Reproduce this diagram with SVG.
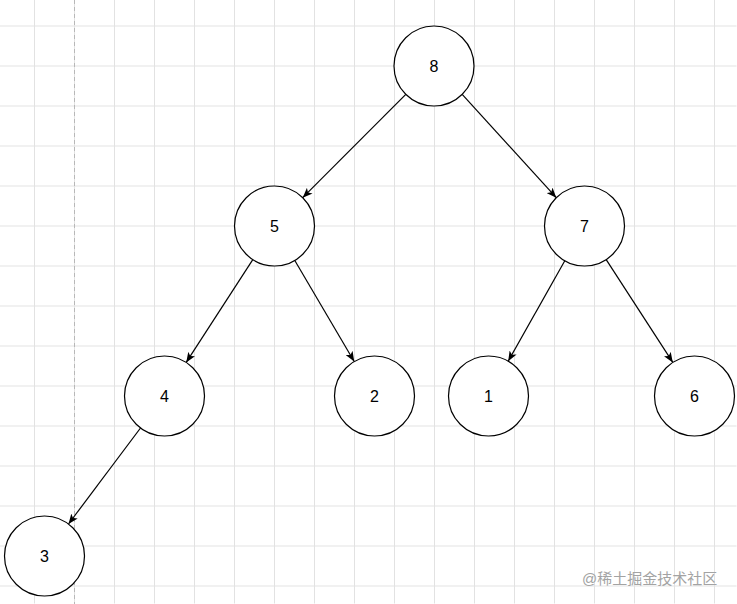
<svg xmlns="http://www.w3.org/2000/svg" width="737" height="604" viewBox="0 0 737 604">
  <defs>
    <pattern id="grid" x="34.5" y="26" width="40" height="40" patternUnits="userSpaceOnUse">
      <path d="M0,0.5 H40 M0.5,0 V40" fill="none" stroke="#e2e2e2" stroke-width="1"/>
    </pattern>
    <marker id="arrow" viewBox="0 0 10 8" refX="10" refY="4" markerWidth="10" markerHeight="8" markerUnits="userSpaceOnUse" orient="auto">
      <path d="M0,0 L10,4 L0,8 L2.5,4 Z" fill="#000"/>
    </marker>
  </defs>
  <style>
    .node circle { fill: #fff; stroke: #000; stroke-width: 1.2; }
    .node text { font-family: "Liberation Sans", Arial, sans-serif; font-size: 16px; fill: #000; text-anchor: middle; }
    .edges line { stroke: #000; stroke-width: 1.2; marker-end: url(#arrow); }
    .wm { font-family: "Liberation Sans", "Noto Sans CJK SC", sans-serif; font-size: 15px; fill: #a3a3a3; }
  </style>
  <rect width="737" height="604" fill="#fff"/>
  <rect x="0" y="0" width="737" height="604" fill="url(#grid)" transform="translate(-0.5,-0.5)"/>
  <line x1="74.5" y1="0" x2="74.5" y2="604" stroke="#b8b8b8" stroke-width="1" stroke-dasharray="4 3"/>

  <g class="edges" id="edges">
    <line x1="405.8" y1="94.3" x2="302.7" y2="197.7"/>
    <line x1="462.2" y1="94.3" x2="556.3" y2="197.7"/>
    <line x1="252.8" y1="259.6" x2="186.2" y2="362.4"/>
    <line x1="294.8" y1="260.5" x2="354.2" y2="361.5"/>
    <line x1="564.8" y1="260.8" x2="508.2" y2="361.2"/>
    <line x1="606.2" y1="259.6" x2="672.8" y2="362.4"/>
    <line x1="140.5" y1="428" x2="68.5" y2="524"/>
  </g>

  <g class="node" id="n8"><circle cx="434" cy="66" r="40"/><text x="434" y="72">8</text></g>
  <g class="node" id="n5"><circle cx="274.5" cy="226" r="40"/><text x="274.5" y="232">5</text></g>
  <g class="node" id="n7"><circle cx="584.5" cy="226" r="40"/><text x="584.5" y="232">7</text></g>
  <g class="node" id="n4"><circle cx="164.5" cy="396" r="40"/><text x="164.5" y="402">4</text></g>
  <g class="node" id="n2"><circle cx="374.5" cy="396" r="40"/><text x="374.5" y="402">2</text></g>
  <g class="node" id="n1"><circle cx="488.5" cy="396" r="40"/><text x="488.5" y="402">1</text></g>
  <g class="node" id="n6"><circle cx="694.5" cy="396" r="40"/><text x="694.5" y="402">6</text></g>
  <g class="node" id="n3"><circle cx="44.5" cy="556" r="40"/><text x="44.5" y="562">3</text></g>

  <text class="wm" x="582" y="584">@稀土掘金技术社区</text>
</svg>
